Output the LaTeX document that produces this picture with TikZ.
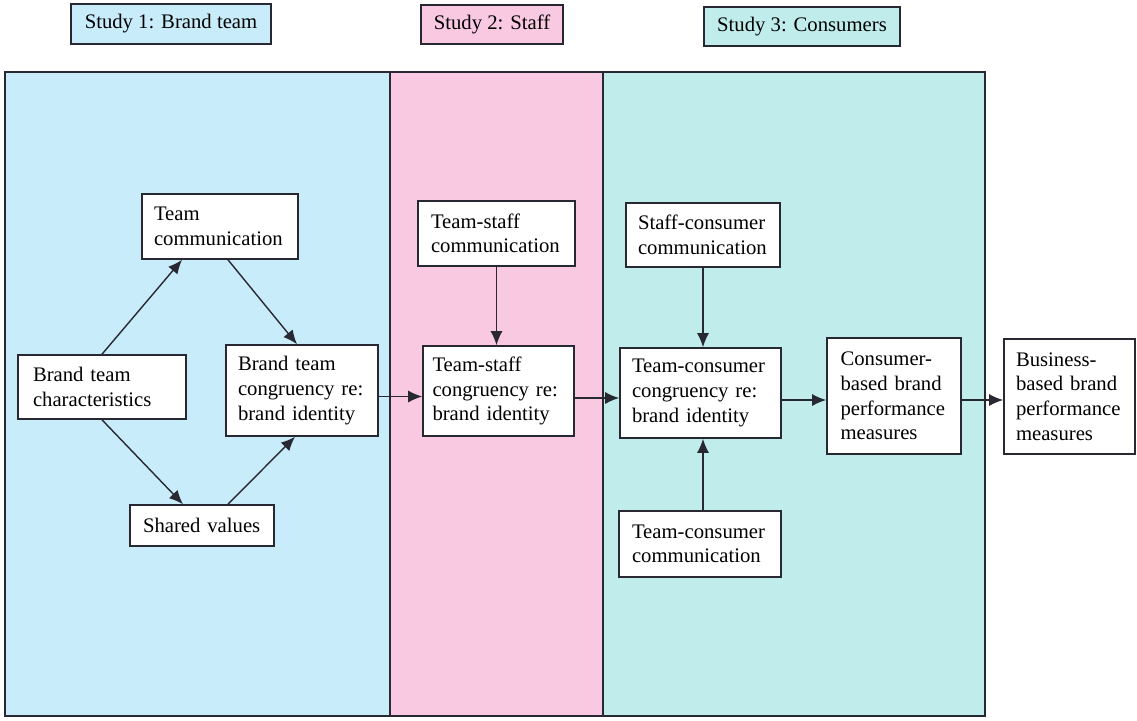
\documentclass[tikz,border=0pt]{standalone}
\usepackage{fontspec}
\setmainfont{Liberation Serif}
\usetikzlibrary{arrows.meta}

\definecolor{panelblue}{RGB}{200,236,250}
\definecolor{panelpink}{RGB}{249,200,225}
\definecolor{panelteal}{RGB}{192,237,236}
\definecolor{edge}{RGB}{40,40,50}

\begin{document}
\begin{tikzpicture}[x=0.5pt,y=-0.5pt,
  every node/.style={font=\fontsize{10.35}{12.3}\selectfont},
  box/.style={draw=edge, line width=0.8pt, fill=white, inner sep=0pt, align=left},
  bx/.style n args={3}{box, minimum width=#1, minimum height=#2, text width=#3},
  studylabel/.style={draw=edge, line width=0.8pt, inner sep=0pt, align=center},
  flow/.style={draw=edge, line width=0.7pt, -{Latex[length=7pt,width=6pt]}}
]
\useasboundingbox (0,0) rectangle (1137,720);

% three study panels
\fill[panelblue] (5,72) rectangle (390,716);
\fill[panelpink] (390,72) rectangle (603,716);
\fill[panelteal] (603,72) rectangle (985,716);
\draw[edge, line width=0.8pt] (5,72) rectangle (985,716);
\draw[edge, line width=0.6pt] (390,72) -- (390,716) (603,72) -- (603,716);

% study headings
\node[studylabel, fill=panelblue, minimum width=100pt, minimum height=20pt] (s1) at (171,24) {Study 1: Brand team};
\node[studylabel, fill=panelpink, minimum width=71pt, minimum height=19.5pt] (s2) at (492,24.5) {Study 2: Staff};
\node[studylabel, fill=panelteal, minimum width=98pt, minimum height=19.5pt] (s3) at (802,26.5) {Study 3: Consumers};

% study 1
\node[bx={78pt}{32.5pt}{66pt}] (tcomm) at (220,226.5) {Team\\communication};
\node[bx={84pt}{32pt}{69pt}] (btchar) at (102,387) {Brand team\\characteristics};
\node[bx={76pt}{45.5pt}{64pt}] (btcong) at (302,390.5) {Brand team\\congruency re:\\brand identity};
\node[bx={72pt}{20.5pt}{59pt}] (shared) at (202,525.5) {Shared values};

% study 2
\node[bx={78.5pt}{32.5pt}{65.5pt}] (tscomm) at (496.5,233.5) {Team-staff\\communication};
\node[bx={75.5pt}{45pt}{66pt}] (tscong) at (498.5,391) {Team-staff\\congruency re:\\brand identity};

% study 3
\node[bx={77pt}{32pt}{65pt}] (sccomm) at (703,235) {Staff-consumer\\communication};
\node[bx={80.5pt}{45pt}{68.5pt}] (tccong) at (700.5,393) {Team-consumer\\congruency re:\\brand identity};
\node[bx={81pt}{33pt}{68pt}] (tccomm) at (700,544) {Team-consumer\\communication};
\node[bx={67pt}{58pt}{53.5pt}] (cbb) at (894,396) {Consumer-\\based brand\\performance\\measures};
\node[bx={65.5pt}{57.5pt}{53.5pt}] (bbb) at (1069.5,396.5) {Business-\\based brand\\performance\\measures};

% connectors
\draw[flow] (btchar.north) -- ([xshift=-19pt]tcomm.south);
\draw[flow] ([xshift=4pt]tcomm.south) -- ([xshift=-2.5pt]btcong.north);
\draw[flow] (btchar.south) -- ([xshift=-9.5pt]shared.north);
\draw[flow] ([xshift=13pt]shared.north) -- ([xshift=-3.5pt]btcong.south);
\draw[flow] ([yshift=-3pt]btcong.east) -- ([yshift=-3pt]btcong.east -| tscong.west);
\draw[flow] ([yshift=-3.5pt]tscong.east) -- ([yshift=-3.5pt]tscong.east -| tccong.west);
\draw[flow] ([yshift=-3.5pt]tccong.east) -- ([yshift=-3.5pt]tccong.east -| cbb.west);
\draw[flow] ([yshift=-2pt]cbb.east) -- ([yshift=-2pt]cbb.east -| bbb.west);
\draw[flow] (tscomm.south) -- (tscomm.south |- tscong.north);
\draw[flow] (sccomm.south) -- (sccomm.south |- tccong.north);
\draw[flow] ([xshift=1.5pt]tccomm.north) -- ([xshift=1.5pt]tccomm.north |- tccong.south);
\end{tikzpicture}
\end{document}
